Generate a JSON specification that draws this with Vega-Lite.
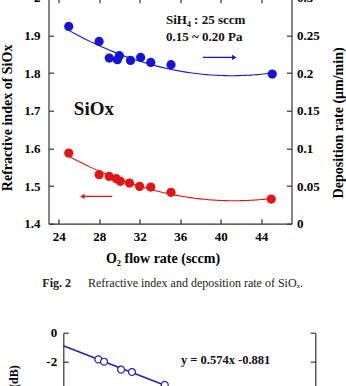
{
  "$schema": "https://vega.github.io/schema/vega-lite/v6.json",
  "autosize": {"type": "none"},
  "padding": {"left": 48.5, "top": -2.3, "right": 297.5, "bottom": 388.3},
  "align": "none",
  "spacing": 37,
  "config": {
    "view": {"stroke": null},
    "axis": {
      "grid": false,
      "labelFont": "Liberation Serif",
      "labelFontWeight": "bold",
      "labelFontSize": 13,
      "labelColor": "#000",
      "titleFont": "Liberation Serif",
      "titleFontWeight": "bold",
      "titleFontSize": 14,
      "titleColor": "#000",
      "domainColor": "#333",
      "domainWidth": 1.2,
      "tickColor": "#333",
      "tickWidth": 1.2,
      "tickSize": -5,
      "labelOverlap": false,
      "labelFlush": false
    },
    "text": {"font": "Liberation Serif"}
  },
  "datasets": {
    "red": [
      {"o2": 25.0, "idx": 1.5875},
      {"o2": 28.0, "idx": 1.5302},
      {"o2": 29.0, "idx": 1.5256},
      {"o2": 29.7, "idx": 1.5195},
      {"o2": 30.1, "idx": 1.5124},
      {"o2": 31.0, "idx": 1.508},
      {"o2": 32.0, "idx": 1.4991},
      {"o2": 33.1, "idx": 1.4973},
      {"o2": 35.1, "idx": 1.4832},
      {"o2": 45.0, "idx": 1.4654}
    ],
    "blue": [
      {"o2": 25.0, "rate": 0.2619},
      {"o2": 28.0, "rate": 0.242},
      {"o2": 29.0, "rate": 0.2199},
      {"o2": 30.0, "rate": 0.223},
      {"o2": 29.8, "rate": 0.2177},
      {"o2": 31.1, "rate": 0.2168},
      {"o2": 32.1, "rate": 0.2207},
      {"o2": 33.1, "rate": 0.2141},
      {"o2": 35.1, "rate": 0.2111},
      {"o2": 45.1, "rate": 0.1986}
    ],
    "notesBold": [
      {"x": 34.6, "y": 1.9397, "t": "SiH₄ : 25 sccm", "size": 13},
      {"x": 34.6, "y": 1.8946, "t": "0.15  ~  0.20 Pa", "size": 13},
      {"x": 25.5, "y": 1.7035, "t": "SiOx", "size": 19}
    ],
    "captionLabel": [
      {"x": 25.22, "y": 1.2424, "t": "Fig. 2"}
    ],
    "captionText": [
      {"x": 26.9, "y": 1.2424, "t": "Refractive index and deposition rate of SiOₓ."}
    ],
    "arrows": [
      {"x": 38.26, "x2": 41.35, "y": 1.8415, "c": "blue", "hx": 41.35, "shape": "triangle-right"},
      {"x": 26.35, "x2": 29.3, "y": 1.4725, "c": "red", "hx": 26.35, "shape": "triangle-left"}
    ],
    "loss": [
      {"x": 1.67, "y": -1.84},
      {"x": 1.94, "y": -2.0},
      {"x": 2.75, "y": -2.55},
      {"x": 3.27, "y": -2.71},
      {"x": 4.83, "y": -3.59}
    ],
    "fit": [
      {"x": 0, "y": -0.9},
      {"x": 4.83, "y": -3.62}
    ]
  },
  "vconcat": [
    {
      "width": 243,
      "height": 226,
      "layer": [
        {
          "data": {"name": "red"},
          "encoding": {
            "x": {
              "field": "o2", "type": "quantitative",
              "scale": {"domain": [23, 47]},
              "axis": {
                "orient": "bottom",
                "values": [24, 28, 32, 36, 40, 44],
                "labelPadding": 11.5,
                "title": "O₂ flow rate (sccm)",
                "titleX": 114,
                "titleY": 34.5,
                "titleBaseline": "middle",
                "titleAlign": "center"
              }
            },
            "y": {
              "field": "idx", "type": "quantitative",
              "scale": {"domain": [1.4, 2.0]},
              "axis": {
                "orient": "left",
                "values": [1.4, 1.5, 1.6, 1.7, 1.8, 1.9, 2.0],
                "format": "~g",
                "labelPadding": 13.5,
                "title": "Refractive index of SiOx",
                "titleAngle": 270,
                "titleX": -41.5,
                "titleY": 119.7,
                "titleBaseline": "middle",
                "titleAlign": "center"
              }
            }
          },
          "layer": [
            {
              "transform": [{"regression": "idx", "on": "o2", "method": "poly", "order": 2, "extent": [25, 45]}],
              "mark": {"type": "line", "color": "#e41414", "strokeWidth": 1.1}
            },
            {
              "mark": {"type": "circle", "color": "#e41414", "size": 85, "opacity": 1}
            }
          ]
        },
        {
          "data": {"name": "blue"},
          "encoding": {
            "x": {
              "field": "o2", "type": "quantitative",
              "scale": {"domain": [23, 47]},
              "axis": {
                "orient": "top",
                "values": [24, 28, 32, 36, 40, 44],
                "labels": false,
                "title": null
              }
            },
            "y": {
              "field": "rate", "type": "quantitative",
              "scale": {"domain": [0, 0.3]},
              "axis": {
                "orient": "right",
                "values": [0, 0.05, 0.1, 0.15, 0.2, 0.25, 0.3],
                "format": "~g",
                "labelPadding": 10,
                "title": "Deposition rate (μm/min)",
                "titleAngle": 270,
                "titleX": 46.5,
                "titleY": 124.7,
                "titleBaseline": "middle",
                "titleAlign": "center"
              }
            }
          },
          "layer": [
            {
              "transform": [{"regression": "rate", "on": "o2", "method": "poly", "order": 2, "extent": [25, 45]}],
              "mark": {"type": "line", "color": "#1414d4", "strokeWidth": 1.1}
            },
            {
              "mark": {"type": "circle", "color": "#1414d4", "size": 85, "opacity": 1}
            }
          ]
        },
        {
          "data": {"name": "notesBold"},
          "mark": {"type": "text", "align": "left", "baseline": "middle", "fontWeight": "bold", "color": "#111"},
          "encoding": {
            "x": {"field": "x", "type": "quantitative", "scale": {"domain": [23, 47]}, "axis": null},
            "y": {"field": "y", "type": "quantitative", "scale": {"domain": [1.4, 2.0]}, "axis": null},
            "text": {"field": "t"},
            "size": {"field": "size", "type": "quantitative", "scale": null, "legend": null}
          }
        },
        {
          "data": {"name": "captionLabel"},
          "mark": {"type": "text", "align": "right", "baseline": "middle", "fontWeight": "bold", "fontSize": 12, "color": "#222"},
          "encoding": {
            "x": {"field": "x", "type": "quantitative", "scale": {"domain": [23, 47]}, "axis": null},
            "y": {"field": "y", "type": "quantitative", "scale": {"domain": [1.4, 2.0]}, "axis": null},
            "text": {"field": "t"}
          }
        },
        {
          "data": {"name": "captionText"},
          "mark": {"type": "text", "align": "left", "baseline": "middle", "fontWeight": "normal", "fontSize": 12, "color": "#222"},
          "encoding": {
            "x": {"field": "x", "type": "quantitative", "scale": {"domain": [23, 47]}, "axis": null},
            "y": {"field": "y", "type": "quantitative", "scale": {"domain": [1.4, 2.0]}, "axis": null},
            "text": {"field": "t"}
          }
        },
        {
          "data": {"name": "arrows"},
          "layer": [
            {
              "mark": {"type": "rule", "strokeWidth": 1.3},
              "encoding": {
                "x": {"field": "x", "type": "quantitative", "scale": {"domain": [23, 47]}, "axis": null},
                "x2": {"field": "x2"},
                "y": {"field": "y", "type": "quantitative", "scale": {"domain": [1.4, 2.0]}, "axis": null},
                "color": {"field": "c", "type": "nominal", "scale": {"domain": ["blue", "red"], "range": ["#1414d4", "#e41414"]}, "legend": null}
              }
            },
            {
              "mark": {"type": "point", "filled": true, "size": 28, "opacity": 1},
              "encoding": {
                "x": {"field": "hx", "type": "quantitative", "scale": {"domain": [23, 47]}, "axis": null},
                "y": {"field": "y", "type": "quantitative", "scale": {"domain": [1.4, 2.0]}, "axis": null},
                "shape": {"field": "shape", "type": "nominal", "scale": null, "legend": null},
                "color": {"field": "c", "type": "nominal", "scale": {"domain": ["blue", "red"], "range": ["#1414d4", "#e41414"]}, "legend": null}
              }
            }
          ]
        }
      ],
      "resolve": {"scale": {"y": "independent"}, "axis": {"x": "independent", "y": "independent"}}
    },
    {
      "width": 266.8,
      "height": 145,
      "layer": [
        {
          "data": {"name": "fit"},
          "mark": {"type": "line", "color": "#2323b0", "strokeWidth": 1.6},
          "encoding": {
            "x": {
              "field": "x", "type": "quantitative",
              "scale": {"domain": [0, 12], "range": [14.8, 266.8]},
              "axis": {"orient": "top", "values": [0, 2, 4, 6, 8, 10, 12], "labels": false, "title": null}
            },
            "y": {
              "field": "y", "type": "quantitative",
              "scale": {"domain": [-10, 0]},
              "axis": {
                "orient": "left",
                "offset": -14.8,
                "values": [0, -2, -4, -6, -8, -10],
                "labelExpr": "datum.value == 0 ? '0' : '-' + abs(datum.value)",
                "labelPadding": 11.6,
                "title": "Loss (dB)",
                "titleFontSize": 12,
                "titleAngle": 270,
                "titleX": -49.8,
                "titleY": 32,
                "titleBaseline": "middle",
                "titleAlign": "right"
              }
            }
          }
        },
        {
          "data": {"name": "loss"},
          "mark": {"type": "point", "shape": "circle", "filled": false, "fill": "white", "fillOpacity": 1, "color": "#2323b0", "strokeWidth": 1.2, "size": 48, "opacity": 1},
          "encoding": {
            "x": {"field": "x", "type": "quantitative", "scale": {"domain": [0, 12], "range": [14.8, 266.8]}, "axis": null},
            "y": {
              "field": "y", "type": "quantitative",
              "scale": {"domain": [-10, 0]},
              "axis": {"orient": "right", "values": [0, -2, -4, -6, -8, -10], "labels": false, "title": null}
            }
          }
        },
        {
          "data": {"values": [{"x": 5.6, "y": -1.88, "t": "y = 0.574x -0.881"}]},
          "mark": {"type": "text", "align": "left", "baseline": "middle", "fontWeight": "bold", "fontSize": 12.5, "color": "#111"},
          "encoding": {
            "x": {"field": "x", "type": "quantitative", "scale": {"domain": [0, 12], "range": [14.8, 266.8]}, "axis": null},
            "y": {"field": "y", "type": "quantitative", "scale": {"domain": [-10, 0]}, "axis": null},
            "text": {"field": "t"}
          }
        }
      ],
      "resolve": {"axis": {"y": "independent"}}
    }
  ]
}
